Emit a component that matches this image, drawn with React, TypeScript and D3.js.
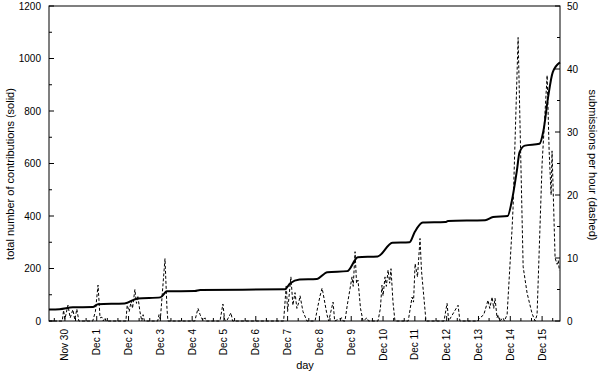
import React from "react";
import * as d3 from "d3";

// hours since Nov 30 00:00
const dayLabels = [
  "Nov 30", "Dec 1", "Dec 2", "Dec 3", "Dec 4", "Dec 5", "Dec 6", "Dec 7",
  "Dec 8", "Dec 9", "Dec 10", "Dec 11", "Dec 12", "Dec 13", "Dec 14", "Dec 15",
];
const leftTicks = [0, 200, 400, 600, 800, 1000, 1200];
const rightTicks = [0, 10, 20, 30, 40, 50];

// cumulative contributions (solid)
const totalHours = [
  -12, -4, 6, 21, 25, 45, 55, 72, 77, 98, 102, 166, 170, 177, 190, 198, 213,
  221, 236, 247, 260, 264, 270, 287, 289, 317, 323, 334, 337, 341, 343, 347,
  358, 361, 364.5, 368, 373.5,
];
const totalValues = [
  44, 45, 52, 53, 64, 67, 86, 90, 113, 114, 118, 121, 144, 158, 160, 186, 190,
  243, 246, 298, 300, 340, 375, 377, 381, 384, 396, 400, 453, 574, 643, 668,
  675, 725, 852, 947, 985,
];

// submissions per hour (dashed)
const rateHours = [
  -12, -2, -1, 0, 2.3, 4, 6, 7.5, 9, 10.5,
  21, 23, 25, 26.5, 27.9, 29, 30.2, 31,
  46, 47, 48.5, 50, 51, 52.8, 54, 55, 56.6, 58, 59, 60,
  70, 71, 72, 75.5, 77, 77.7,
  98, 100.4, 102, 104, 105.7, 106.5,
  117, 119.2, 120.5, 122, 125.3, 126.5,
  165, 167, 168, 170.5, 172, 173.6, 175, 176.5, 177.4, 179.6, 182.6,
  188.7, 191, 192.5, 194, 194.7, 196, 197.7, 199, 202.3, 203.5, 209, 210,
  211.3, 213, 215, 216.6, 217.5, 218.9, 220, 221.1, 223, 224.9, 227.9, 229,
  236.2, 238, 239.2, 240, 241.5, 242.5, 243.8, 245, 246, 247.5, 249,
  259, 261.9, 263, 264.2, 266, 267.9, 269, 272.4,
  286, 288.3, 289.5, 296.6, 298,
  311, 313.2, 316, 319.2, 320.5, 322.3, 323.5, 324.5, 326, 326.8, 328, 330.6, 331.5,
  333.6, 337.4, 338.1, 341.9, 345.7, 348.7, 352.4, 354.7, 356.2, 360, 363.8,
  365.3, 366.8, 367.5, 369.8, 371.3, 372.2, 373,
];
const rateValues = [
  0, 0, 1.7, 0.3, 2.5, 0.5, 1.8, 0.2, 1.9, 0,
  0, 1.5, 5.7, 0.5, 0.6, 0, 0.5, 0,
  0, 2.5, 1.5, 3.2, 2, 5, 2.8, 4, 1.5, 0, 1, 0,
  0, 1, 0.3, 9.9, 2, 0,
  0, 2, 1, 0.1, 0.5, 0,
  0, 2.7, 0.2, 0, 1.3, 0,
  0, 5.7, 1.5, 7, 2.5, 4.5, 2, 3, 4, 1.5, 0,
  0, 2.5, 4, 5.2, 4.5, 3, 1, 0, 3, 0, 0.5, 0,
  0, 2.5, 5, 7, 5.5, 11, 6, 6.5, 2, 0, 0.5, 0,
  0, 2, 5.7, 4, 7, 5.5, 8.1, 6, 8.3, 3, 0,
  0, 3.8, 3, 9.1, 7, 13.1, 8, 0,
  0, 2.8, 0, 2.5, 0,
  0, 0.5, 1, 3.3, 2, 3.8, 2, 3.6, 0.5, 1, 0, 0.5, 0,
  1, 14.9, 18, 45, 8.6, 4.4, 1.2, 0, 1, 25, 39,
  27, 20, 27, 10, 9, 9.6, 8,
];

const W = 598;
const H = 380;
const L = 49;
const R = 560;
const T = 6;
const B = 321;
const FONT = "'Liberation Sans', Arial, sans-serif";

export default function App() {
  const x = d3.scaleLinear().domain([-12, 373.5]).range([L, R]);
  const yL = d3.scaleLinear().domain([0, 1200]).range([B, T]);
  const yR = d3.scaleLinear().domain([0, 50]).range([B, T]);

  const solid = d3
    .line<number>()
    .x((h) => x(h))
    .y((_, i) => yL(totalValues[i]))
    .curve(d3.curveMonotoneX)(totalHours);

  const dashed = d3
    .line<number>()
    .x((h) => x(h))
    .y((_, i) => yR(rateValues[i]))(rateHours);

  const dayTicks = dayLabels.map((_, i) => i * 24);
  const minorX = d3.range(-8, 373, 8).filter((h) => h % 24 !== 0);
  const leftMinor = d3.range(100, 1200, 200);
  const rightMinor = d3.range(5, 50, 10);

  return (
    <svg
      width={W}
      height={H}
      style={{ position: "absolute", left: 0, top: 0, background: "#fff" }}
      fontFamily={FONT}
    >
      <path d={dashed ?? ""} fill="none" stroke="#000" strokeWidth={1} strokeDasharray="3,2" />
      <path d={solid ?? ""} fill="none" stroke="#000" strokeWidth={2} />

      <rect x={L} y={T} width={R - L} height={B - T} fill="none" stroke="#000" strokeWidth={1} />

      {/* left axis */}
      {leftTicks.map((v) => (
        <g key={"l" + v}>
          <line x1={L} x2={L + 5} y1={yL(v)} y2={yL(v)} stroke="#000" />
          <text x={41} y={yL(v)} dy="0.35em" textAnchor="end" fontSize={10}>
            {v}
          </text>
        </g>
      ))}
      {leftMinor.map((v) => (
        <line key={"lm" + v} x1={L} x2={L + 3} y1={yL(v)} y2={yL(v)} stroke="#000" />
      ))}

      {/* right axis */}
      {rightTicks.map((v) => (
        <g key={"r" + v}>
          <line x1={R} x2={R - 5} y1={yR(v)} y2={yR(v)} stroke="#000" />
          <text x={567} y={yR(v)} dy="0.35em" textAnchor="start" fontSize={10}>
            {v}
          </text>
        </g>
      ))}
      {rightMinor.map((v) => (
        <line key={"rm" + v} x1={R} x2={R - 3} y1={yR(v)} y2={yR(v)} stroke="#000" />
      ))}

      {/* bottom axis */}
      {dayTicks.map((h, i) => (
        <g key={"d" + h}>
          <line x1={x(h)} x2={x(h)} y1={B} y2={B - 5} stroke="#000" />
          <text
            transform={`translate(${x(h)},329) rotate(-90)`}
            dy="0.35em"
            textAnchor="end"
            fontSize={10}
          >
            {dayLabels[i]}
          </text>
        </g>
      ))}
      {minorX.map((h) => (
        <line key={"m" + h} x1={x(h)} x2={x(h)} y1={B} y2={B - 3} stroke="#000" />
      ))}

      <text x={305} y={369} textAnchor="middle" fontSize={11}>
        day
      </text>
      <text
        transform="translate(14,174) rotate(-90)"
        textAnchor="middle"
        fontSize={11}
      >
        total number of contributions (solid)
      </text>
      <text
        transform="translate(589,165) rotate(90)"
        textAnchor="middle"
        fontSize={11}
      >
        submissions per hour (dashed)
      </text>
    </svg>
  );
}
